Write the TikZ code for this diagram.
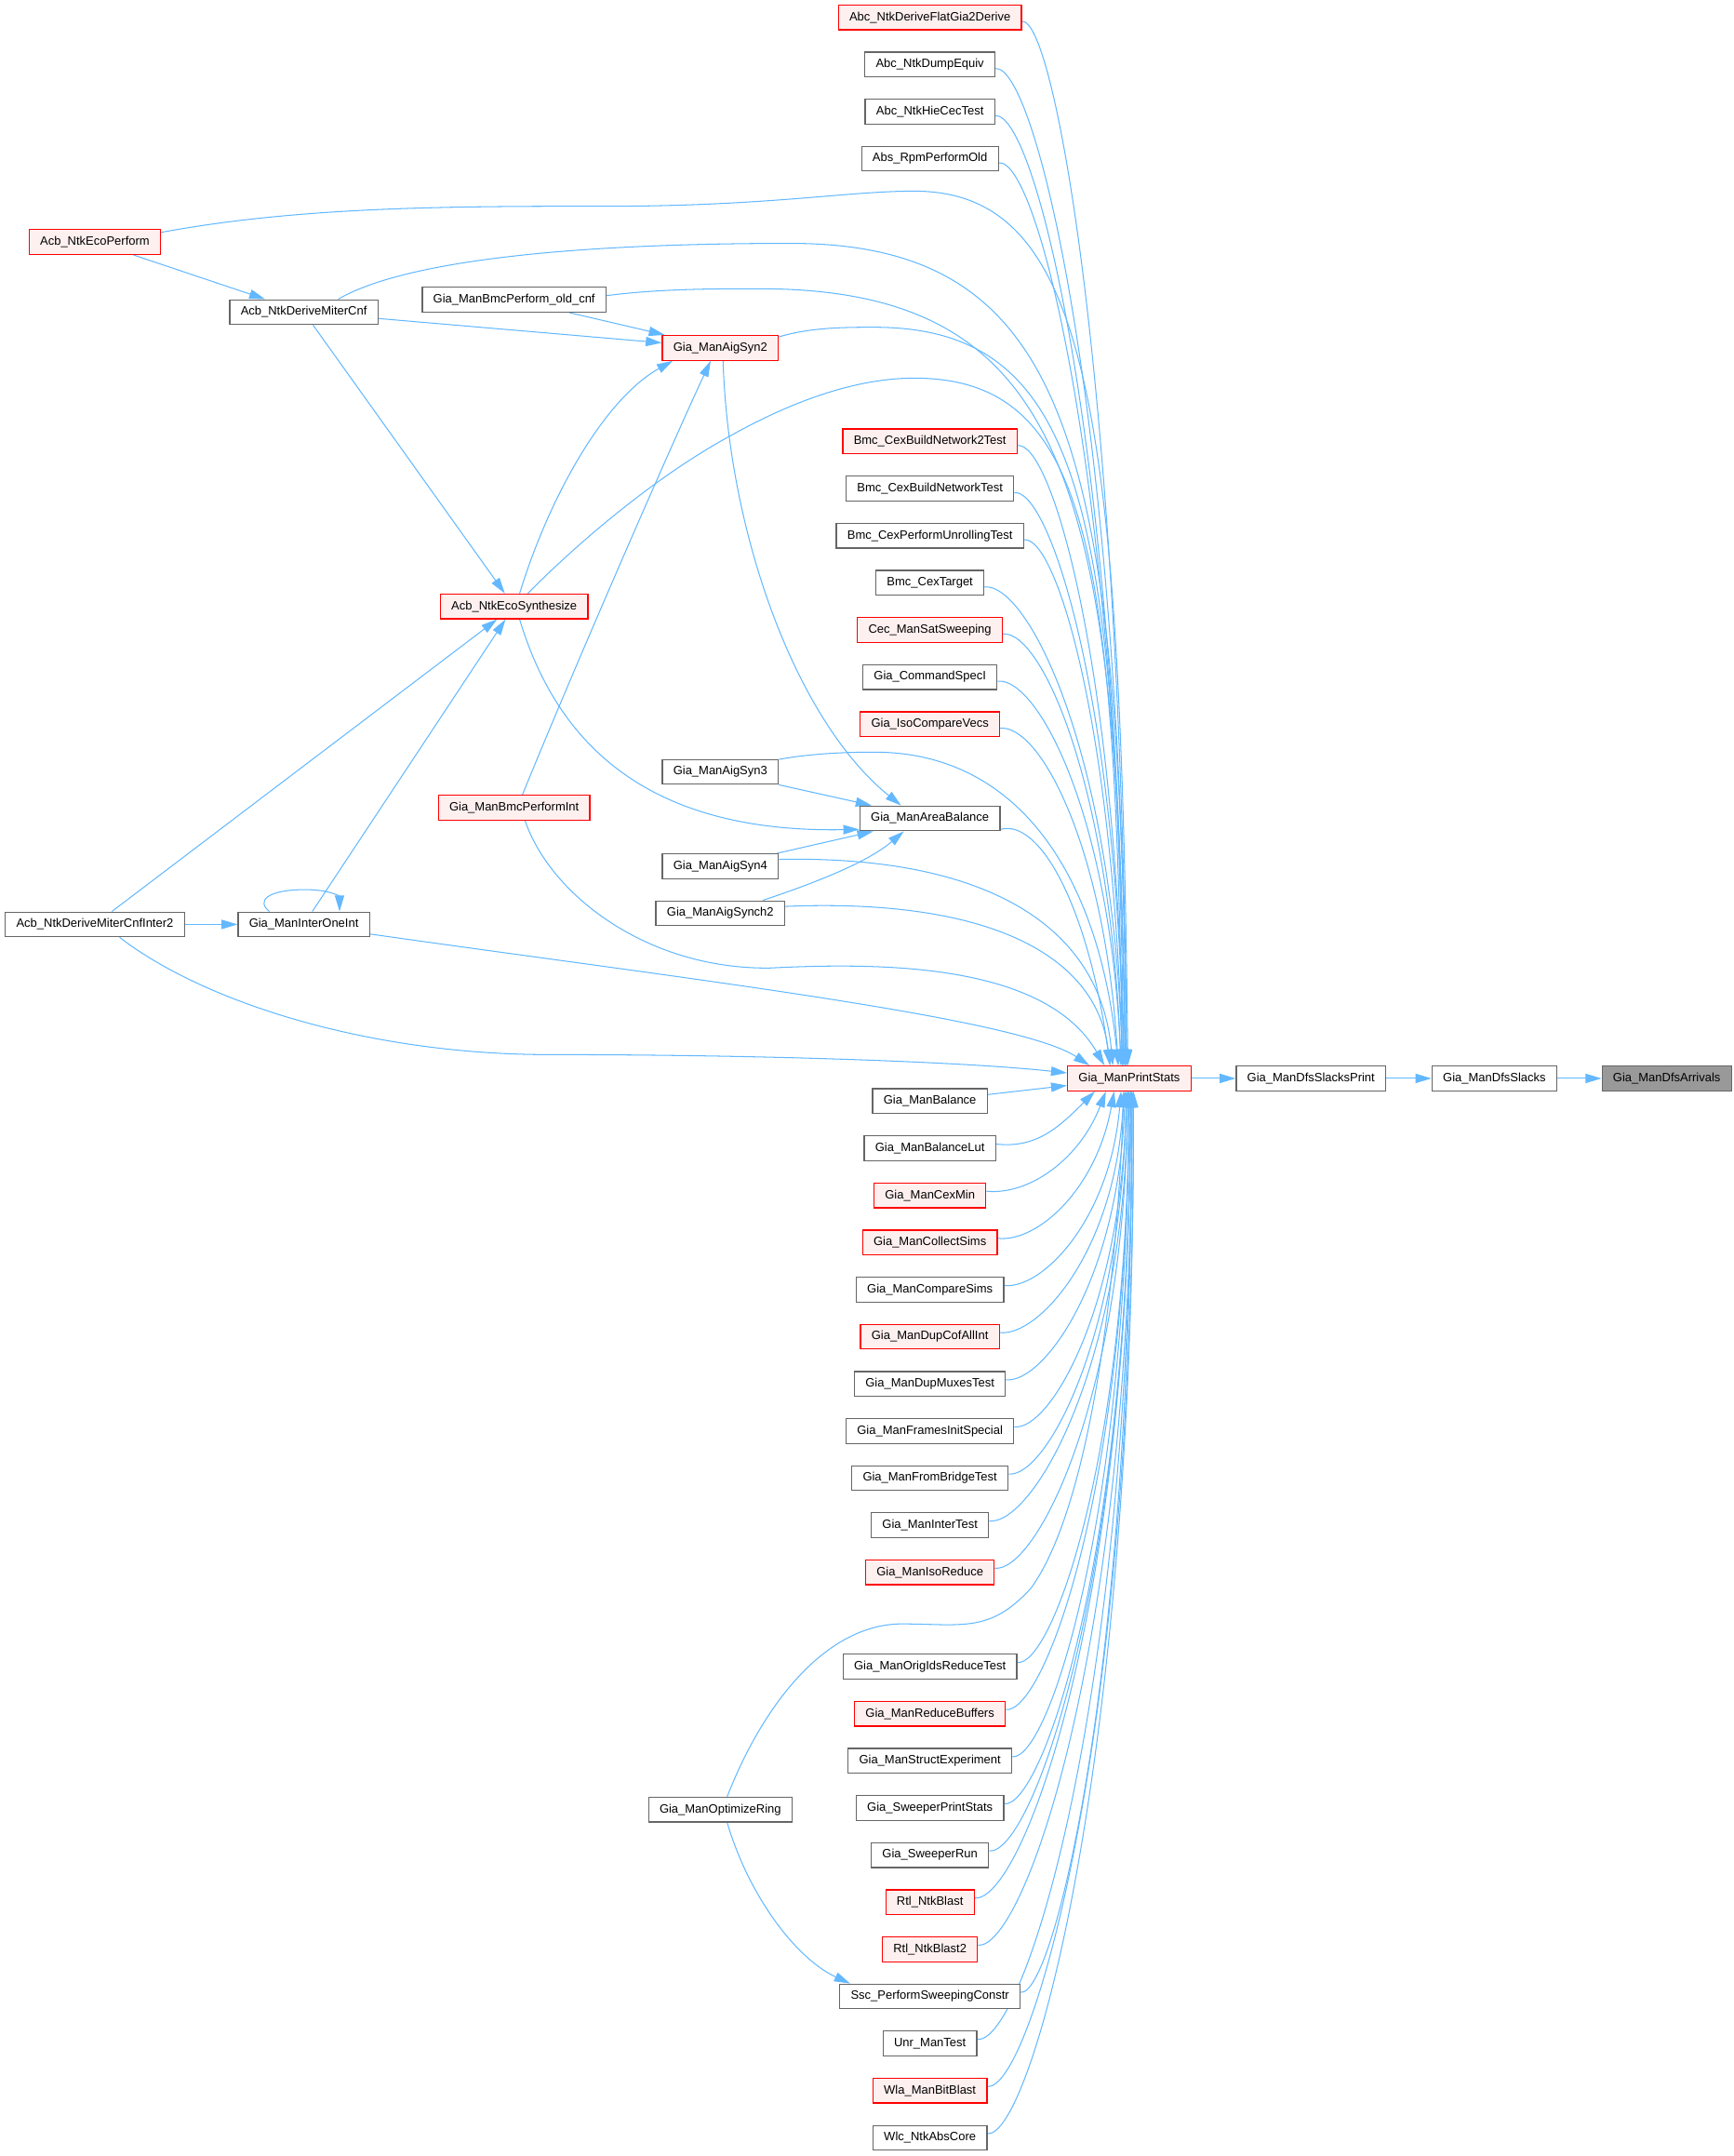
\documentclass[tikz,border=0pt]{standalone}
\usepackage{fontspec}
\setmainfont{Liberation Sans}
\usetikzlibrary{arrows.meta,calc}
\pgfdeclarelayer{bg}
\pgfsetlayers{bg,main}

\begin{document}
\begin{tikzpicture}[x=0.05cm, y=-0.05cm,
    fn/.style={draw=boxGray, fill=white, line width=1.2pt, minimum height=0.9cm,
        inner xsep=0.4cm, inner ysep=0pt, font=\fontsize{12.5}{14}\selectfont},
    fnred/.style={fn, draw=red, fill=redFill},
    fnsel/.style={fn, fill=selGray},
    call/.style={draw=edgeBlue, line width=1pt, -{Triangle[length=0.58cm, width=0.34cm]}}]
    % Define colours and column position
    \definecolor{boxGray}{HTML}{666666}
    \definecolor{redFill}{HTML}{FFF0F0}
    \definecolor{selGray}{HTML}{999999}
    \definecolor{edgeBlue}{HTML}{63B8FF}
    \def\colX{676.5}

    \useasboundingbox (0,0) rectangle (1261,1568);

    % Draw callers next to Gia_ManPrintStats
    \foreach \n/\s/\k/\t in {adf/fnred/0/Abc\_NtkDeriveFlatGia2Derive, ade/fn/1/Abc\_NtkDumpEquiv,
        ahc/fn/2/Abc\_NtkHieCecTest, arp/fn/3/Abs\_RpmPerformOld, bn2/fnred/9/Bmc\_CexBuildNetwork2Test,
        bnt/fn/10/Bmc\_CexBuildNetworkTest, bpu/fn/11/Bmc\_CexPerformUnrollingTest, bct/fn/12/Bmc\_CexTarget,
        css/fnred/13/Cec\_ManSatSweeping, gcs/fn/14/Gia\_CommandSpecI, gic/fnred/15/Gia\_IsoCompareVecs,
        gab/fn/17/Gia\_ManAreaBalance, gmb/fn/23/Gia\_ManBalance, gbl/fn/24/Gia\_ManBalanceLut,
        gcm/fnred/25/Gia\_ManCexMin, gcl/fnred/26/Gia\_ManCollectSims, gcp/fn/27/Gia\_ManCompareSims,
        gdc/fnred/28/Gia\_ManDupCofAllInt, gdm/fn/29/Gia\_ManDupMuxesTest, gfi/fn/30/Gia\_ManFramesInitSpecial,
        gfb/fn/31/Gia\_ManFromBridgeTest, git/fn/32/Gia\_ManInterTest, gir/fnred/33/Gia\_ManIsoReduce,
        gor/fn/35/Gia\_ManOrigIdsReduceTest, grb/fnred/36/Gia\_ManReduceBuffers, gse/fn/37/Gia\_ManStructExperiment,
        gsp/fn/38/Gia\_SweeperPrintStats, gsr/fn/39/Gia\_SweeperRun, rnb/fnred/40/Rtl\_NtkBlast,
        rn2/fnred/41/Rtl\_NtkBlast2, ssc/fn/42/Ssc\_PerformSweepingConstr, umt/fn/43/Unr\_ManTest,
        wbb/fnred/44/Wla\_ManBitBlast, wac/fn/45/Wlc\_NtkAbsCore}
        \node[\s] (\n) at (\colX,{12.6+34.27*\k}) {\t};

    % Draw the other callers
    \node[fnred] (ep)  at (69,176)    {Acb\_NtkEcoPerform};
    \node[fn]    (dmc) at (221,227)   {Acb\_NtkDeriveMiterCnf};
    \node[fn]    (boc) at (374,218)   {Gia\_ManBmcPerform\_old\_cnf};
    \node[fnred] (es)  at (374,441)   {Acb\_NtkEcoSynthesize};
    \node[fnred] (bpi) at (374,587.5) {Gia\_ManBmcPerformInt};
    \node[fnred] (as2) at (524,253)   {Gia\_ManAigSyn2};
    \node[fn]    (as3) at (524,561.3) {Gia\_ManAigSyn3};
    \node[fn]    (as4) at (524,630)   {Gia\_ManAigSyn4};
    \node[fn]    (asy) at (524,664.2) {Gia\_ManAigSynch2};
    \node[fn]    (dmi) at (69,672.3)  {Acb\_NtkDeriveMiterCnfInter2};
    \node[fn]    (ioi) at (221,672.3) {Gia\_ManInterOneInt};
    \node[fn]    (opr) at (524,1316)  {Gia\_ManOptimizeRing};

    % Draw the call chain
    \node[fnred] (ps)  at (821.5,784.3)  {Gia\_ManPrintStats};
    \node[fn]    (dsp) at (953.7,784.3)  {Gia\_ManDfsSlacksPrint};
    \node[fn]    (dsl) at (1087.1,784.3) {Gia\_ManDfsSlacks};
    \node[fnsel] (dar) at (1212.5,784.3) {Gia\_ManDfsArrivals};

    \begin{pgfonlayer}{bg}
    \draw[call] (ps) -- (dsp);
    \draw[call] (dsp) -- (dsl);
    \draw[call] (dsl) -- (dar);

    % Fan-in from above and below
    \foreach \n/\ex/\sy in {adf/-2/3, ade/-2/3, ahc/-3/3, arp/-3/3, bn2/-4/3, bnt/-4/3, bpu/-5/3,
        bct/-5/3, css/-6/3, gcs/-6/3, gic/-8/3, gab/-14/8}
        \draw[call] ($(\n.east)+(0,\sy)$) .. controls ($(\n.east)!0.3!(ps.north |- \n.east)$)
            and ($(ps.north)!0.65!(ps.north |- \n.east)+(2*\ex-2,0)$) .. ($(ps.north)+(\ex,0)$);
    \foreach \n/\ex in {gbl/-25, gcm/-17, gcl/-11, gcp/-6, gdc/-4, gdm/-3, gfi/-2, gfb/-2, git/-1,
        gir/-1, gor/0, grb/0, gse/0, gsp/1, gsr/1, rnb/1, rn2/2, ssc/2, umt/2, wbb/3, wac/3}
        \draw[call] ($(\n.east)+(0,-3)$) .. controls ($(\n.east)!0.3!(ps.south |- \n.east)$)
            and ($(ps.south)!0.65!(ps.south |- \n.east)+(2*\ex-2,0)$) .. ($(ps.south)+(\ex,0)$);
    \draw[call] (gmb) -- (ps);

    % Long edges into Gia_ManPrintStats
    \draw[call] ($(ep.east)+(0,-7)$) .. controls (220,150) and (330,150) .. (440,150)
        .. controls (560,150) and (615,139) .. (665,139) .. controls (792,139) and (815,298) .. ($(ps.north)+(-1,0)$);
    \draw[call] ($(dmc.north)+(25,0)$) .. controls (290,192) and (400,177) .. (575,177)
        .. controls (779,177) and (814,326) .. ($(ps.north)+(-2,0)$);
    \draw[call] ($(boc.east)+(0,-3)$) .. controls (480,210) and (520,210) .. (552,210)
        .. controls (776,210) and (813,351) .. ($(ps.north)+(-3,0)$);
    \draw[call] ($(as2.east)+(0,-8)$) .. controls (590,238) and (615,238) .. (636,238)
        .. controls (788,238) and (812,372) .. ($(ps.north)+(-4,0)$);
    \draw[call] ($(es.north)+(10,0)$) .. controls (410,405) and (470,350) .. (533,316)
        .. controls (580,290) and (625,275) .. (665,275) .. controls (792,275) and (811,400) .. ($(ps.north)+(-5,0)$);
    \draw[call] ($(as3.east)+(0,-9)$) .. controls (590,548) and (615,547) .. (636,547)
        .. controls (743,547) and (800,640) .. ($(ps.north)+(-8,0)$);
    \draw[call] ($(as4.east)+(0,-5)$) .. controls (712,622) and (800,670) .. ($(ps.north)+(-12,0)$);
    \draw[call] ($(asy.east)+(0,-5)$) .. controls (720,653) and (798,695) .. ($(ps.north)+(-14,0)$);
    \draw[call] ($(bpi.south)+(8,0)$) .. controls (400,650) and (470,705) .. (560,704)
        .. controls (640,700) and (760,700) .. ($(ps.north)+(-18,0)$);
    \draw[call] ($(ioi.east)+(0,7)$) .. controls (500,712) and (740,740) .. ($(ps.north)+(-29,0)$);
    \draw[call] ($(dmi.south)+(18,0)$) .. controls (150,730) and (270,767) .. (400,767)
        .. controls (550,767) and (700,772) .. ($(ps.west)+(0,-4)$);
    \draw[call] ($(opr.north)+(5,0)$) .. controls (555,1240) and (600,1182) .. (655,1181)
        .. controls (700,1181) and (720,1188) .. (750,1155) .. controls (790,1100) and (812,950) .. ($(ps.south)+(-4,0)$);

    % Edges between the other callers
    \draw[call] (ep) -- (dmc);
    \draw[call] (dmc) -- (es);
    \draw[call] (dmc) -- (as2);
    \draw[call] (boc) -- (as2);
    \draw[call] ($(es.north)+(4,0)$) .. controls (400,360) and (440,290) .. ($(as2.south west)+(8,0)$);
    \draw[call] ($(bpi.north)+(6,0)$) .. controls (420,480) and (490,320) .. ($(as2.south)+(-7,0)$);
    \draw[call] ($(as2.south)+(2,0)$) .. controls (530,390) and (580,525) .. ($(gab.north)+(-21,0)$);
    \draw[call] ($(es.south)+(4,0)$) .. controls (405,540) and (470,606) .. ($(gab.west)+(0,8)$);
    \draw[call] (as3) -- (gab);
    \draw[call] (as4) -- (gab);
    \draw[call] ($(asy.north)+(31,0)$) .. controls (590,643) and (630,628) .. ($(gab.south)+(-19,0)$);
    \draw[call] (dmi) -- (es);
    \draw[call] (ioi) -- (es);
    \draw[call] (dmi) -- (ioi);
    \draw[call] ($(ioi.north)+(-25,0)$) .. controls (186,655) and (195,647) .. (222,647)
        .. controls (240,647) and (247,652) .. ($(ioi.north)+(26,0)$);
    \draw[call] ($(opr.south)+(5,0)$) .. controls (545,1380) and (580,1425) .. ($(ssc.north west)+(8,0)$);
    \end{pgfonlayer}

\end{tikzpicture}
\end{document}
